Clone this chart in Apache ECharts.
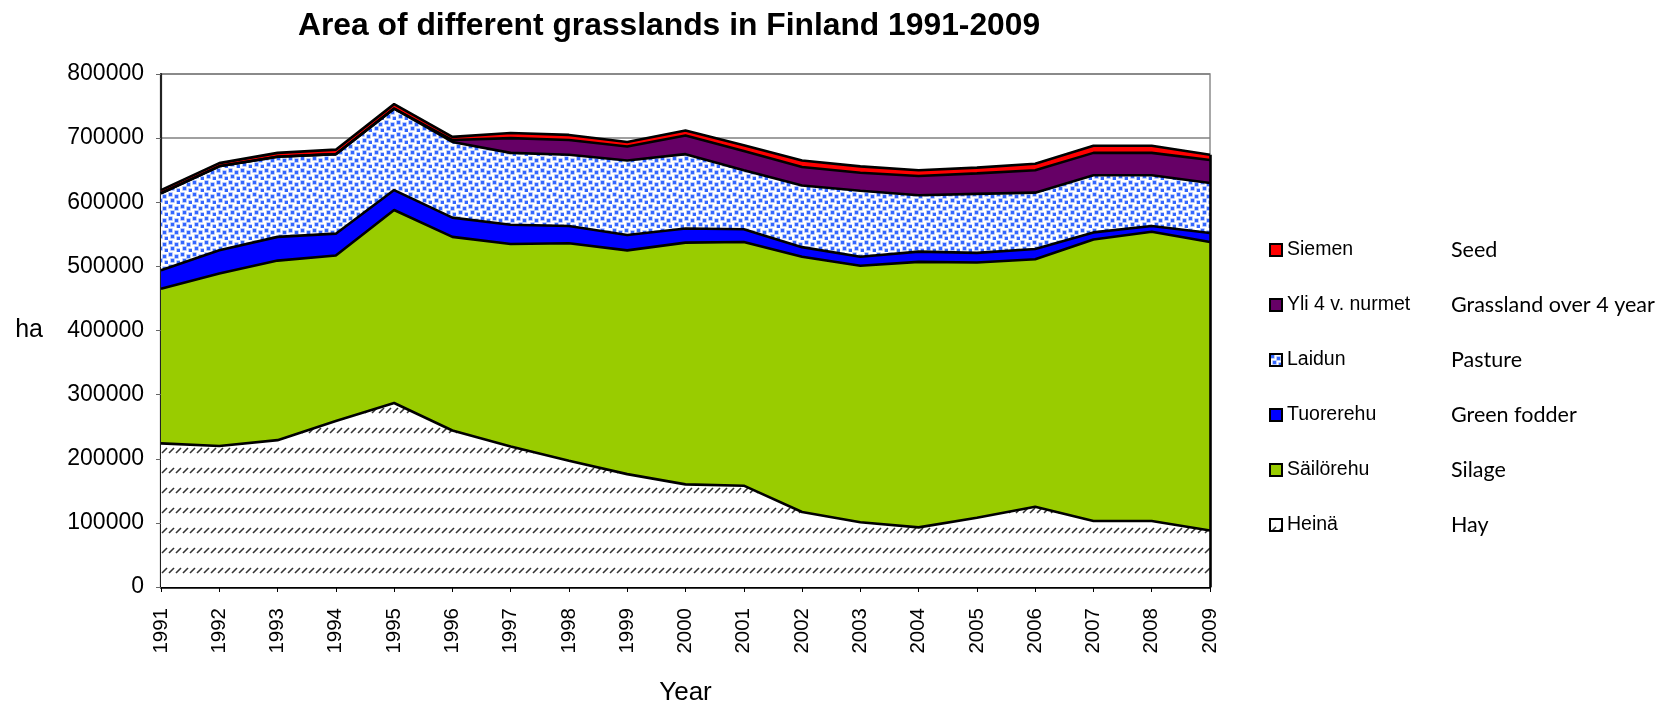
<!DOCTYPE html>
<html>
<head>
<meta charset="utf-8">
<script src="https://cdn.jsdelivr.net/npm/echarts@6/dist/echarts.min.js"></script>
<style>
html,body{margin:0;padding:0;background:#fff;}
#chart{width:1669px;height:704px;}
</style>
</head>
<body>
<div id="chart"></div>
<script>
const years = ['1991','1992','1993','1994','1995','1996','1997','1998','1999','2000','2001','2002','2003','2004','2005','2006','2007','2008','2009'];
const hay = [224000,220000,229000,259000,287000,244000,219000,197000,176000,160000,158000,117000,101000,93000,108000,125000,103000,103000,88000];
const silage = [241000,269000,280000,258000,301000,302000,316000,339000,349000,377000,380000,398000,400000,414000,398000,386000,439000,451000,450000];
const greenFodder = [29000,36000,37000,34000,31000,30000,30000,27000,24000,22000,20000,15000,14000,16000,15000,16000,11000,9000,14000];
const pasture = [120000,131000,125000,124000,127000,118000,112000,111000,116000,116000,92000,96000,103000,88000,92000,88000,89000,79000,78000];
const over4 = [0,0,0,0,0,3000,23000,23000,22000,29000,30000,29000,28000,30000,32000,35000,35000,35000,36000];
const seed = [5000,5000,6000,7000,7000,5000,8000,8000,7000,8000,9000,10000,10000,9000,9000,10000,11000,11000,8000];
const seriesNames = ['Heinä','Säilörehu','Tuorerehu','Laidun','Yli 4 v. nurmet','Siemen'];
const englishNames = ['Hay','Silage','Green fodder','Pasture','Grassland over 4 year','Seed'];
const yTicks = [0,100000,200000,300000,400000,500000,600000,700000,800000];

function makeHayPattern(){
  const c = document.createElement('canvas');
  c.width = 7; c.height = 20;
  const g = c.getContext('2d');
  g.fillStyle = '#fff'; g.fillRect(0,0,7,20);
  g.strokeStyle = '#333'; g.lineWidth = 1.6;
  g.beginPath(); g.moveTo(1,13); g.lineTo(6,8); g.stroke();
  return c;
}
function makePasturePattern(){
  const c = document.createElement('canvas');
  c.width = 12; c.height = 12;
  const g = c.getContext('2d');
  g.fillStyle = '#fff'; g.fillRect(0,0,12,12);
  const pts = [[1,1],[7,3],[3,7],[9,9]];
  pts.forEach(p=>{
    g.fillStyle = '#9db6fa'; g.fillRect(p[0]-0.7,p[1]-0.7,4.4,4.4);
    g.fillStyle = '#3366ff'; g.fillRect(p[0],p[1],3,3);
  });
  return c;
}
const hayFill = {image: makeHayPattern(), repeat: 'repeat'};
const pastureFill = {image: makePasturePattern(), repeat: 'repeat'};
const fills = [hayFill, '#99cc00', '#0000ff', pastureFill, '#660066', '#ff0000'];
const dataArr = [hay, silage, greenFodder, pasture, over4, seed];
const lastIdx = years.length - 1;
const lastTotal = dataArr.reduce((s, arr) => s + arr[lastIdx], 0);

const chart = echarts.init(document.getElementById('chart'), null, {renderer:'canvas'});
const series = seriesNames.map((n,i)=>{
  const s = {
    name: n,
    type: 'line',
    stack: 'total',
    data: dataArr[i],
    symbol: 'none',
    itemStyle: {color: fills[i]},
    lineStyle: {color: '#000', width: 2.6},
    areaStyle: {color: fills[i], opacity: 1},
    emphasis: {disabled: true}
  };
  if (i === seriesNames.length - 1) {
    s.markLine = {
      silent: true,
      symbol: 'none',
      label: {show: false},
      lineStyle: {color: '#000', width: 2.6, type: 'solid'},
      data: [[{coord: [years[lastIdx], 0]}, {coord: [years[lastIdx], lastTotal]}]]
    };
  }
  return s;
});
const legendOrder = seriesNames.slice().reverse();
chart.setOption({
  animation: false,
  backgroundColor: '#fff',
  title: {
    text: 'Area of different grasslands in Finland 1991-2009',
    left: 293, top: 5,
    textStyle: {fontFamily: 'Liberation Sans, Arial', fontWeight: 'bold', fontSize: 31.8, color: '#000'}
  },
  legend: {
    orient: 'vertical',
    left: 1264, top: 234,
    itemWidth: 12, itemHeight: 12,
    itemGap: 33,
    icon: 'rect',
    itemStyle: {borderColor: '#000', borderWidth: 2},
    data: legendOrder,
    formatter: function(name){
      const idx = seriesNames.indexOf(name);
      return '{a|' + name + '}{b|' + englishNames[idx] + '}';
    },
    textStyle: {
      rich: {
        a: {width: 164, fontFamily: 'Liberation Sans, Arial', fontSize: 19.5, color: '#000', lineHeight: 20},
        b: {fontFamily: 'Lato', fontSize: 21.5, color: '#000', lineHeight: 20}
      }
    }
  },
  grid: {left: 161, right: 459, top: 74, bottom: 117, show: true, borderColor: '#8c8c8c', borderWidth: 1.5,
    containLabel: false, outerBoundsMode: 'none'},
  xAxis: {
    type: 'category',
    data: years,
    boundaryGap: false,
    name: 'Year',
    nameLocation: 'middle',
    nameGap: 93,
    nameTextStyle: {fontFamily: 'Liberation Sans, Arial', fontSize: 26, color: '#000'},
    axisLine: {lineStyle: {color: '#000', width: 2.5}},
    axisTick: {show: true, length: 5, lineStyle: {color: '#000'}},
    axisLabel: {rotate: 90, margin: 21, fontFamily: 'Liberation Sans, Arial', fontSize: 20.5, color: '#000'}
  },
  yAxis: {
    type: 'value',
    min: 0, max: 800000, interval: 100000,
    name: 'ha',
    nameLocation: 'middle',
    nameRotate: 0,
    nameGap: 118,
    nameTextStyle: {fontFamily: 'Liberation Sans, Arial', fontSize: 25, color: '#000', align: 'right'},
    axisLine: {show: true, lineStyle: {color: '#222', width: 2.2}},
    axisTick: {show: true, length: 5, lineStyle: {color: '#666'}},
    axisLabel: {margin: 17, fontFamily: 'Liberation Sans, Arial', fontSize: 23, color: '#000',
      formatter: v => yTicks.indexOf(v) >= 0 ? String(v) : ''},
    splitLine: {show: true, lineStyle: {color: '#808080', width: 1.5}}
  },
  series: series
});
</script>
</body>
</html>
